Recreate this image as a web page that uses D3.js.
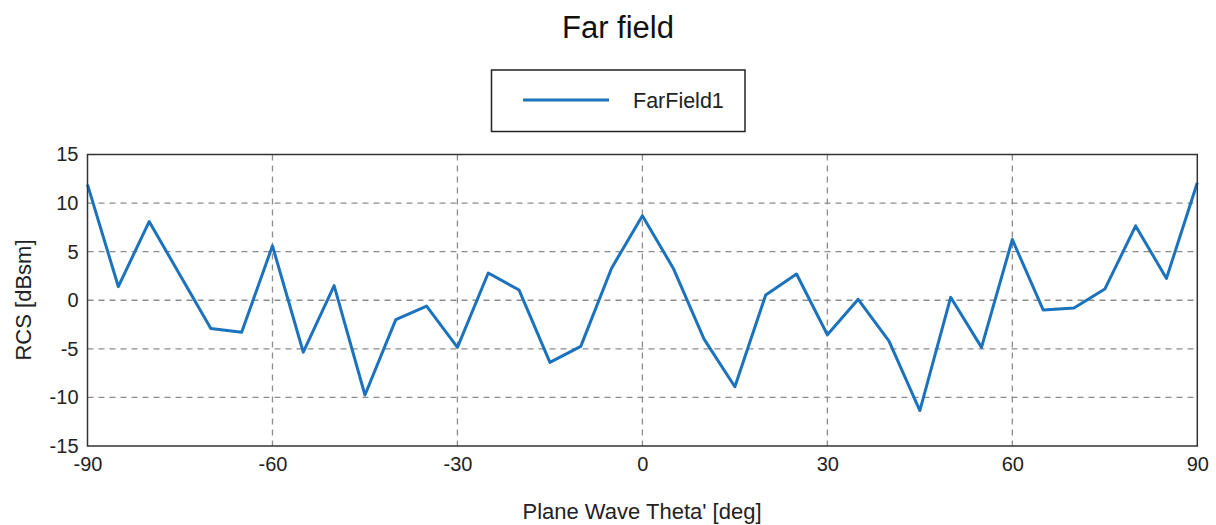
<!DOCTYPE html>
<html>
<head>
<meta charset="utf-8">
<script src="https://cdn.jsdelivr.net/npm/d3@7/dist/d3.min.js"></script>
<style>
  html, body { margin: 0; padding: 0; background: #fff; }
  svg { display: block; font-family: Arial, "Liberation Sans", sans-serif; }
</style>
</head>
<body>
<svg id="chart" width="1216" height="525"></svg>
<script>
// Monostatic RCS sweep over plane-wave incidence angle
const theta = [-90, -85, -80, -75, -70, -65, -60, -55, -50, -45, -40, -35, -30, -25, -20, -15, -10, -5,
               0, 5, 10, 15, 20, 25, 30, 35, 40, 45, 50, 55, 60, 65, 70, 75, 80, 85, 90];
const rcs = [11.9, 1.4, 8.1, 2.6, -2.9, -3.3, 5.6, -5.35, 1.5, -9.75, -2.0, -0.6, -4.85, 2.8, 1.05, -6.4, -4.75, 3.3,
             8.7, 3.3, -4.0, -8.9, 0.55, 2.7, -3.55, 0.1, -4.2, -11.35, 0.3, -4.85, 6.25, -1.0, -0.8, 1.15, 7.65, 2.25, 12.1];
const xTicks = [-90, -60, -30, 0, 30, 60, 90];
const yTicks = [-15, -10, -5, 0, 5, 10, 15];
const seriesName = "FarField1";

const svg = d3.select("#chart");
const plot = { left: 87.5, right: 1197.3, top: 154.5, bottom: 446 };

const x = d3.scaleLinear().domain([-90, 90]).range([plot.left, plot.right]);
const y = d3.scaleLinear().domain([-15, 15]).range([plot.bottom, plot.top]);

const lineColor = "#1b72bd";
const plainNum = d => String(d);   // ASCII hyphen for negatives

// Title
svg.append("text")
  .attr("x", 618).attr("y", 38)
  .attr("text-anchor", "middle")
  .attr("font-size", 31)
  .attr("fill", "#111")
  .text("Far field");

// Legend
const lg = svg.append("g");
lg.append("rect")
  .attr("x", 491.5).attr("y", 70).attr("width", 253.5).attr("height", 61.5)
  .attr("fill", "#fff").attr("stroke", "#222").attr("stroke-width", 1.5);
lg.append("line")
  .attr("x1", 523).attr("x2", 609).attr("y1", 100).attr("y2", 100)
  .attr("stroke", lineColor).attr("stroke-width", 3);
lg.append("text")
  .attr("x", 633).attr("y", 108)
  .attr("font-size", 21.5)
  .attr("fill", "#222")
  .text(seriesName);

// Grid lines (dashed)
const grid = svg.append("g");
grid.selectAll(".gx")
  .data(xTicks.filter(t => t > -90 && t < 90))
  .join("line")
  .attr("x1", d => x(d)).attr("x2", d => x(d))
  .attr("y1", plot.top).attr("y2", plot.bottom)
  .attr("stroke", "#8c8c8c").attr("stroke-width", 1.3)
  .attr("stroke-dasharray", "6,5");
grid.selectAll(".gy")
  .data(yTicks.filter(t => t > -15 && t < 15))
  .join("line")
  .attr("x1", plot.left).attr("x2", plot.right)
  .attr("y1", d => y(d)).attr("y2", d => y(d))
  .attr("stroke", "#8c8c8c").attr("stroke-width", 1.3)
  .attr("stroke-dasharray", "6,5");

// Axes
const xAxis = d3.axisBottom(x).tickValues(xTicks).tickSize(0).tickPadding(11).tickFormat(plainNum);
const yAxis = d3.axisLeft(y).tickValues(yTicks).tickSize(0).tickPadding(9).tickFormat(plainNum);

const gx = svg.append("g").attr("transform", `translate(0,${plot.bottom})`).call(xAxis);
const gy = svg.append("g").attr("transform", `translate(${plot.left},0)`).call(yAxis);
[gx, gy].forEach(g => {
  g.select(".domain").remove();
  g.selectAll("text").attr("font-size", 20).attr("fill", "#222").attr("font-family", "Arial, 'Liberation Sans', sans-serif");
});

// Data line
const line = d3.line().x((d, i) => x(theta[i])).y(d => y(d));
svg.append("path")
  .datum(rcs)
  .attr("d", line)
  .attr("fill", "none")
  .attr("stroke", lineColor)
  .attr("stroke-width", 3)
  .attr("stroke-linejoin", "round");

// Plot frame
svg.append("rect")
  .attr("x", plot.left).attr("y", plot.top)
  .attr("width", plot.right - plot.left).attr("height", plot.bottom - plot.top)
  .attr("fill", "none").attr("stroke", "#333").attr("stroke-width", 1.5);

// Axis titles
svg.append("text")
  .attr("x", 642).attr("y", 519)
  .attr("text-anchor", "middle")
  .attr("font-size", 22)
  .attr("fill", "#222")
  .text("Plane Wave Theta' [deg]");

svg.append("text")
  .attr("transform", "translate(31,300) rotate(-90)")
  .attr("text-anchor", "middle")
  .attr("font-size", 22)
  .attr("fill", "#222")
  .text("RCS [dBsm]");
</script>
</body>
</html>
